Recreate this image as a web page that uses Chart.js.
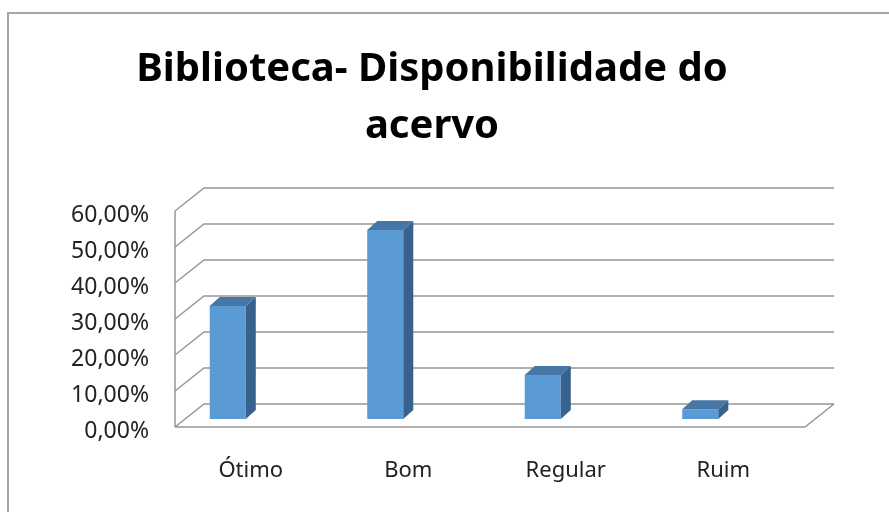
<!DOCTYPE html>
<html>
<head>
<meta charset="utf-8">
<script src="https://cdn.jsdelivr.net/npm/chart.js@4"></script>
<style>
  html, body { margin: 0; padding: 0; background: #fff; overflow: hidden; }
  #frame { position: absolute; left: 7px; top: 12px; width: 1000px; height: 1000px; border: 2px solid #a6a6a6; }
  #wrap { position: absolute; left: 0; top: 0; width: 889px; height: 512px; }
</style>
</head>
<body>
<div id="frame"></div>
<div id="wrap"><canvas id="chart"></canvas></div>
<script>
const titleLines = ['Biblioteca- Disponibilidade do', 'acervo'];
const categories = ['Ótimo', 'Bom', 'Regular', 'Ruim'];
const percentages = [31.4, 52.5, 12.2, 2.7];
const yTicks = [0, 10, 20, 30, 40, 50, 60];

const FRONT_COLOR = '#5b9bd5';
const TOP_COLOR = '#4676a6';
const SIDE_COLOR = '#38628c';

// depth of the floor / back wall
const WALL_DX = 29, WALL_DY = -23;
// bars sit inside the box, a bit behind the front edge
const BAR_SHIFT_X = -26, BAR_SHIFT_Y = -8;
const BAR_DX = 10, BAR_DY = -9;

const box3d = {
  id: 'box3d',
  beforeDatasetsDraw(chart) {
    const { ctx, chartArea: a, scales: { y } } = chart;
    ctx.save();
    ctx.strokeStyle = '#979797';
    ctx.lineWidth = 1.5;
    ctx.beginPath();
    ctx.moveTo(a.left, a.top);
    ctx.lineTo(a.left, a.bottom);
    y.ticks.forEach(t => {
      const py = y.getPixelForValue(t.value);
      ctx.moveTo(a.left, py);
      ctx.lineTo(a.left + WALL_DX, py + WALL_DY);
      ctx.lineTo(a.right + WALL_DX, py + WALL_DY);
    });
    ctx.moveTo(a.left, a.bottom);
    ctx.lineTo(a.right, a.bottom);
    ctx.lineTo(a.right + WALL_DX, a.bottom + WALL_DY);
    ctx.stroke();
    ctx.restore();

    ctx.save();
    ctx.translate(BAR_SHIFT_X, BAR_SHIFT_Y);
  },
  afterDatasetsDraw(chart) {
    const ctx = chart.ctx;
    chart.getDatasetMeta(0).data.forEach(bar => {
      const half = bar.width / 2;
      const x0 = bar.x - half, x1 = bar.x + half;
      const top = bar.y, bottom = bar.base;

      ctx.fillStyle = SIDE_COLOR;
      ctx.beginPath();
      ctx.moveTo(x1, top);
      ctx.lineTo(x1 + BAR_DX, top + BAR_DY);
      ctx.lineTo(x1 + BAR_DX, bottom + BAR_DY);
      ctx.lineTo(x1, bottom);
      ctx.closePath();
      ctx.fill();

      ctx.fillStyle = TOP_COLOR;
      ctx.beginPath();
      ctx.moveTo(x0, top);
      ctx.lineTo(x0 + BAR_DX, top + BAR_DY);
      ctx.lineTo(x1 + BAR_DX, top + BAR_DY);
      ctx.lineTo(x1, top);
      ctx.closePath();
      ctx.fill();
    });
    ctx.restore();
  }
};

Chart.defaults.font.family = "'Noto Sans', sans-serif";

new Chart(document.getElementById('chart'), {
  type: 'bar',
  data: {
    labels: categories,
    datasets: [{
      data: percentages,
      backgroundColor: FRONT_COLOR,
      borderWidth: 0,
      categoryPercentage: 1,
      barPercentage: 0.229,
      clip: false
    }]
  },
  options: {
    responsive: true,
    maintainAspectRatio: false,
    animation: false,
    layout: { padding: { left: 59, right: 84, top: 0, bottom: 25 } },
    scales: {
      x: {
        grid: { display: false, drawTicks: false },
        border: { display: false },
        ticks: { padding: 31, labelOffset: -3, color: '#222', font: { size: 22 } },
        afterFit(s) { s.height = 60; }
      },
      y: {
        min: 0,
        max: 60,
        grid: { display: false, drawTicks: false },
        border: { display: false },
        ticks: {
          padding: 26,
          labelOffset: 4,
          color: '#222',
          font: { size: 23 },
          callback: v => v.toFixed(2).replace('.', ',') + '%'
        },
        afterBuildTicks(s) { s.ticks = yTicks.map(v => ({ value: v })); },
        afterFit(s) { s.width = 116; }
      }
    },
    plugins: {
      legend: { display: false },
      tooltip: { enabled: false },
      title: {
        display: true,
        text: titleLines,
        color: '#000',
        font: { size: 40, weight: 'bold', lineHeight: 1.425 },
        padding: { top: 41, bottom: 56 }
      }
    }
  },
  plugins: [box3d]
});
</script>
</body>
</html>
